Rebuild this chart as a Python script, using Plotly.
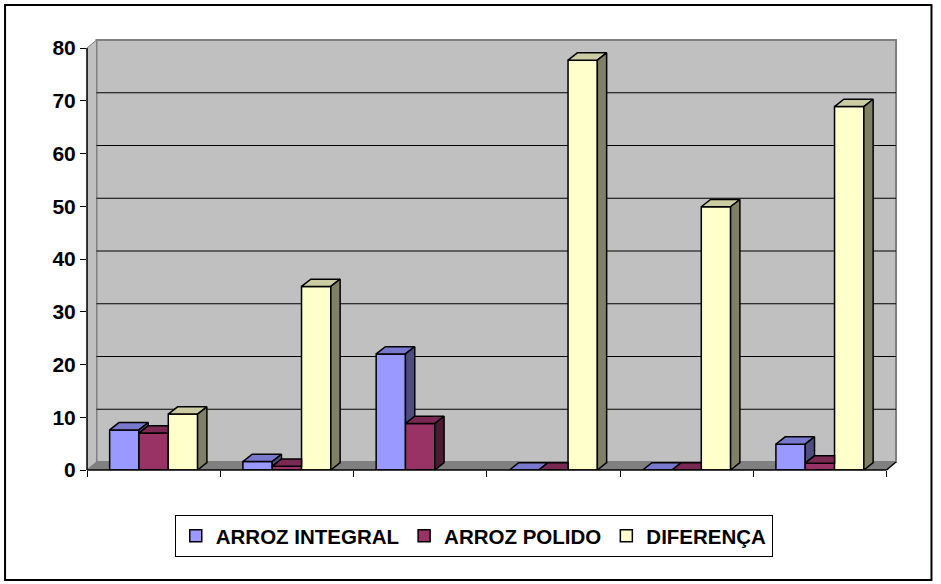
import plotly.graph_objects as go

# ---------------- data ----------------
categories = [0, 1, 2, 3, 4, 5]          # six unlabeled groups
series_names = ["ARROZ INTEGRAL", "ARROZ POLIDO", "DIFERENÇA"]
arroz_integral = [7.6, 1.6, 22.0, 0, 0, 4.9]
arroz_polido = [7.0, 0.7, 8.8, 0, 0, 1.3]
diferenca = [10.6, 34.8, None, 77.7, 49.9, 68.9]
y_ticks = [0, 10, 20, 30, 40, 50, 60, 70, 80]

series_values = [arroz_integral, arroz_polido, diferenca]
front_colors = ["#9999FF", "#993366", "#FFFFCC"]
top_colors = ["#7878CC", "#7A2952", "#CCCCA3"]
side_colors = ["#4D4D80", "#4D1A33", "#808066"]

# ---------------- geometry (pixels -> data units) ----------------
W, H = 941, 584
L_PX = 87            # pixel of x = -0.5 (front y axis)
ZERO_PY = 470        # pixel of y = 0 (front)
PX_X = 800 / 6       # px per category
PX_Y = 422 / 80      # px per value unit
WALL_DX = 9.5 / PX_X
WALL_DY = 8 / PX_Y
BAR_DX = 9.3 / PX_X
BAR_DY = 7.3 / PX_Y
BW = 0.22            # bar width in category units

x_lo, x_hi = -0.5, 5.5 + WALL_DX + 2 / PX_X
y_lo, y_hi = 0, 80 + WALL_DY + 2 / PX_Y
plot_w = (x_hi - x_lo) * PX_X
plot_h = (y_hi - y_lo) * PX_Y
m_l, m_b = L_PX, H - ZERO_PY
m_r = W - L_PX - plot_w
m_t = H - m_b - plot_h


def px2paper_x(px):
    return (px - L_PX) / plot_w


def py2paper_y(py):
    return (ZERO_PY - py) / plot_h


fig = go.Figure()

# ---------------- front faces (bars) ----------------
for s, (name, vals) in enumerate(zip(series_names, series_values)):
    xs = [c + (s - 1) * BW for c in categories]
    fig.add_trace(go.Bar(
        x=xs, y=vals, width=BW, name=name,
        marker=dict(color=front_colors[s], line=dict(color="black", width=1.5)),
        hoverinfo="skip",
    ))

# ---------------- top and side faces ----------------
for s, vals in enumerate(series_values):
    tx, ty, sx, sy = [], [], [], []
    for i, c in enumerate(categories):
        v = vals[i]
        if v is None:
            continue
        nxt = series_values[s + 1][i] if s + 1 < len(series_values) else None
        vj = nxt if nxt is not None else 0
        xc = c + (s - 1) * BW
        xl, xr = xc - BW / 2, xc + BW / 2
        # top face, clipped by right neighbour
        u = min(max(vj, v), v + BAR_DY)
        f = (v + BAR_DY - u) / BAR_DY
        tx += [xl, xr, xr, xr + f * BAR_DX, xl + BAR_DX, xl, None]
        ty += [v, v, u, v + BAR_DY, v + BAR_DY, v, None]
        # side face, visible part above right neighbour
        if v > vj:
            sx += [xr, xr, xr + BAR_DX, xr + BAR_DX, xr, None]
            sy += [vj, v, v + BAR_DY, vj + BAR_DY, vj, None]
    fig.add_trace(go.Scatter(x=tx, y=ty, mode="lines", fill="toself",
                             fillcolor=top_colors[s],
                             line=dict(color="black", width=1.5),
                             showlegend=False, hoverinfo="skip"))
    if sx:
        fig.add_trace(go.Scatter(x=sx, y=sy, mode="lines", fill="toself",
                                 fillcolor=side_colors[s],
                                 line=dict(color="black", width=1.5),
                                 showlegend=False, hoverinfo="skip"))

# ---------------- walls, floor, gridlines ----------------
shapes = []
bx0, bx1 = -0.5 + WALL_DX, 5.5 + WALL_DX
# back wall
shapes.append(dict(type="rect", xref="x", yref="y", x0=bx0, x1=bx1,
                   y0=WALL_DY, y1=80 + WALL_DY, fillcolor="#C0C0C0",
                   line=dict(color="#808080", width=2), layer="below"))
# left wall
shapes.append(dict(type="path", xref="x", yref="y", layer="below",
                   path=f"M{-0.5},{0} L{-0.5},{80} L{bx0},{80 + WALL_DY} L{bx0},{WALL_DY} Z",
                   fillcolor="#C0C0C0", line=dict(color="#808080", width=1)))
# floor
shapes.append(dict(type="path", xref="x", yref="y", layer="below",
                   path=f"M{-0.5},{0} L{5.5},{0} L{bx1},{WALL_DY} L{bx0},{WALL_DY} Z",
                   fillcolor="#808080", line=dict(color="#808080", width=1)))
# gridlines on back wall
for v in y_ticks[1:-1]:
    shapes.append(dict(type="line", xref="x", yref="y", layer="below",
                       x0=bx0, x1=bx1, y0=v + WALL_DY, y1=v + WALL_DY,
                       line=dict(color="black", width=1)))

# front axis lines (paper refs so they are not clipped)
shapes.append(dict(type="line", xref="paper", yref="paper",
                   x0=0, x1=0, y0=0, y1=80 * PX_Y / plot_h,
                   line=dict(color="black", width=1.5)))
shapes.append(dict(type="line", xref="paper", yref="paper",
                   x0=0, x1=800 / plot_w, y0=0, y1=0,
                   line=dict(color="black", width=1.5)))
shapes.append(dict(type="line", xref="paper", yref="paper",
                   x0=800 / plot_w, x1=(800 + 9.5) / plot_w, y0=0, y1=8 / plot_h,
                   line=dict(color="black", width=1.5)))
# outer chart border
shapes.append(dict(type="rect", xref="paper", yref="paper",
                   x0=px2paper_x(5), x1=px2paper_x(932),
                   y0=py2paper_y(580), y1=py2paper_y(5),
                   line=dict(color="black", width=2), fillcolor="rgba(0,0,0,0)"))

font_tick = dict(family="Liberation Sans, Arial", size=21, color="black", weight="bold")
font_leg = dict(family="Liberation Sans, Arial", size=20.5, color="black", weight="bold")

fig.update_layout(
    width=W, height=H,
    margin=dict(l=m_l, r=m_r, t=m_t, b=m_b, pad=0),
    paper_bgcolor="white", plot_bgcolor="white",
    barmode="overlay",
    shapes=shapes,
    showlegend=True,
    legend=dict(orientation="h", x=px2paper_x(474), xanchor="center",
                y=py2paper_y(536), yanchor="middle",
                bordercolor="black", borderwidth=1, bgcolor="white",
                font=font_leg, traceorder="normal", itemwidth=30),
    xaxis=dict(range=[x_lo, x_hi], showgrid=False, zeroline=False,
               showline=False, tickmode="array",
               tickvals=[c - 0.5 for c in categories] + [5.5],
               ticks="outside", ticklen=6, tickcolor="black", tickwidth=1,
               showticklabels=False, fixedrange=True),
    yaxis=dict(range=[y_lo, y_hi], showgrid=False, zeroline=False,
               showline=False, tickmode="array", tickvals=y_ticks,
               ticktext=[str(t) for t in y_ticks],
               ticks="outside", ticklen=6, tickcolor="black", tickwidth=1,
               tickfont=font_tick, fixedrange=True),
)

fig.write_html("out.html")
